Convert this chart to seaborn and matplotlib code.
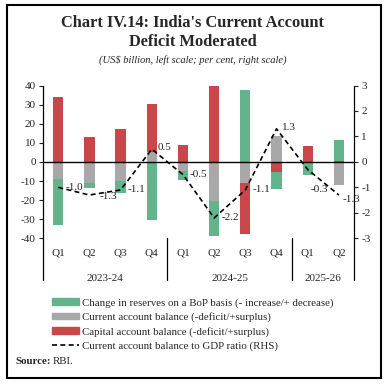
import seaborn as sns
import matplotlib.pyplot as plt
import matplotlib.patches as mpatches
import matplotlib.lines as mlines
import numpy as np
import pandas as pd

# Data (US$ billion, ratio in per cent)
quarters = ['Q1', 'Q2', 'Q3', 'Q4', 'Q1', 'Q2', 'Q3', 'Q4', 'Q1', 'Q2']
years = ['2023-24', '2024-25', '2025-26']
year_span = [(0, 3), (4, 7), (8, 9)]
cab = [-8.7, -11.2, -10.1, 5.0, -4.9, -20.6, -11.2, 13.8, -0.4, -12.0]
capital = [34.0, 12.9, 17.3, 25.4, 9.1, 40.1, -26.3, -5.4, 8.2, 0.5]
reserves = [-24.5, -2.3, -6.0, -30.6, -4.5, -18.3, 37.8, -8.7, -6.6, 11.2]
cab_gdp = [-1.0, -1.3, -1.1, 0.5, -0.5, -2.2, -1.1, 1.3, -0.3, -1.3]

# Settings
sns.set_style('ticks')
plt.rcParams['font.family'] = ['Liberation Serif', 'DejaVu Serif']
plt.rcParams['axes.unicode_minus'] = False

green = '#63b38c'
grey = '#a8a8a8'
red = '#c9464b'

keys = [f'{i}' for i in range(len(quarters))]
fig = plt.figure(figsize=(3.88, 3.87), dpi=100)
ax = fig.add_axes([0.110, 0.3842, 0.8036, 0.3948])

# stacked bars, positives and negatives stacked separately (grey, red, green)
pos_base = np.zeros(len(keys))
neg_base = np.zeros(len(keys))
for vals, col in [(cab, grey), (capital, red), (reserves, green)]:
    vals = np.array(vals)
    bottom = np.where(vals >= 0, pos_base, neg_base)
    sns.barplot(x=keys, y=vals, bottom=bottom, color=col, saturation=1,
                width=0.33, errorbar=None, ax=ax, linewidth=0)
    pos_base = pos_base + np.where(vals >= 0, vals, 0)
    neg_base = neg_base + np.where(vals < 0, vals, 0)

ax.axhline(0, color='black', lw=1, zorder=5)
ax.set_ylim(-40, 40)
ax.set_xlim(-0.5, 9.5)
ax.set_yticks(range(-40, 41, 10))
ax.set_xticks(range(len(keys)))
ax.set_xticklabels(quarters)
ax.set_xlabel('')
ax.set_ylabel('')
ax.tick_params(axis='y', length=3, width=0.8, labelsize=8, pad=2)
ax.tick_params(axis='x', length=0, labelsize=8, pad=7)
for s in ['top', 'bottom', 'left', 'right']:
    ax.spines[s].set_visible(False)

# right axis line
ax2 = ax.twinx()
sns.lineplot(x=np.arange(len(keys)), y=cab_gdp, ax=ax2, color='black',
             lw=1.2, linestyle=(0, (3, 2)))
ax2.set_ylim(-3, 3)
ax2.set_yticks(range(-3, 4))
ax2.tick_params(axis='y', length=3, width=0.8, labelsize=8, pad=2)
for s in ['top', 'bottom', 'left', 'right']:
    ax2.spines[s].set_visible(False)

# data labels
offsets = [(5, 0), (7, -1), (5, 0), (4, 1), (5, 0), (5, 0), (5, 0), (4, 1), (2, -14), (3, -3)]
for i, v in enumerate(cab_gdp):
    ax2.annotate(f'{v:.1f}', (i, v), xytext=offsets[i], textcoords='offset points',
                 ha='left', va='center', fontsize=8, color='#222222')

# spines and group separators extending below the axis
low = -0.273
for xa in [0, 1]:
    ax.plot([xa, xa], [low, 1], transform=ax.transAxes, color='black', lw=0.9, clip_on=False)
for xd in [3.5, 7.5]:
    ax.plot([xd, xd], [low, 0], transform=ax.get_xaxis_transform(), color='black', lw=0.9, clip_on=False)
for yr, (a, b) in zip(years, year_span):
    ax.text((a + b) / 2, -0.266, yr, transform=ax.get_xaxis_transform(),
            ha='center', va='center', fontsize=8)

# title
fig.text(0.497, 1 - 22.7 / 387, "Chart IV.14: India's Current Account", ha='center', va='center',
         fontsize=11.8, fontweight='bold')
fig.text(0.497, 1 - 41.7 / 387, 'Deficit Moderated', ha='center', va='center',
         fontsize=11.8, fontweight='bold')
fig.text(0.497, 1 - 60 / 387, '(US$ billion, left scale; per cent, right scale)', ha='center',
         va='center', fontsize=7.6, style='italic')

# legend
handles = [mpatches.Patch(color=green), mpatches.Patch(color=grey), mpatches.Patch(color=red),
           mlines.Line2D([], [], color='black', lw=1.2, linestyle=(0, (3, 2)))]
labels = ['Change in reserves on a BoP basis (- increase/+ decrease)',
          'Current account balance (-deficit/+surplus)',
          'Capital account balance (-deficit/+surplus)',
          'Current account balance to GDP ratio (RHS)']
fig.legend(handles, labels, loc='upper left', bbox_to_anchor=(52 / 388, 1 - 298 / 387),
           frameon=False, fontsize=7.8, handlelength=2.5, handleheight=0.6,
           handletextpad=0.3, labelspacing=0.42, borderpad=0, borderaxespad=0)

fig.text(15 / 388, 1 - 361 / 387, 'Source:', ha='left', va='center', fontsize=7.8, fontweight='bold')
fig.text(53 / 388, 1 - 361 / 387, 'RBI.', ha='left', va='center', fontsize=7.8)

# outer frame
fig.patches.append(mpatches.Rectangle((7 / 388, 1 - 378 / 387), 374 / 388, 373 / 387,
                                      transform=fig.transFigure, fill=False,
                                      edgecolor='black', lw=1.5))

plt.savefig('out.png', dpi=100)
